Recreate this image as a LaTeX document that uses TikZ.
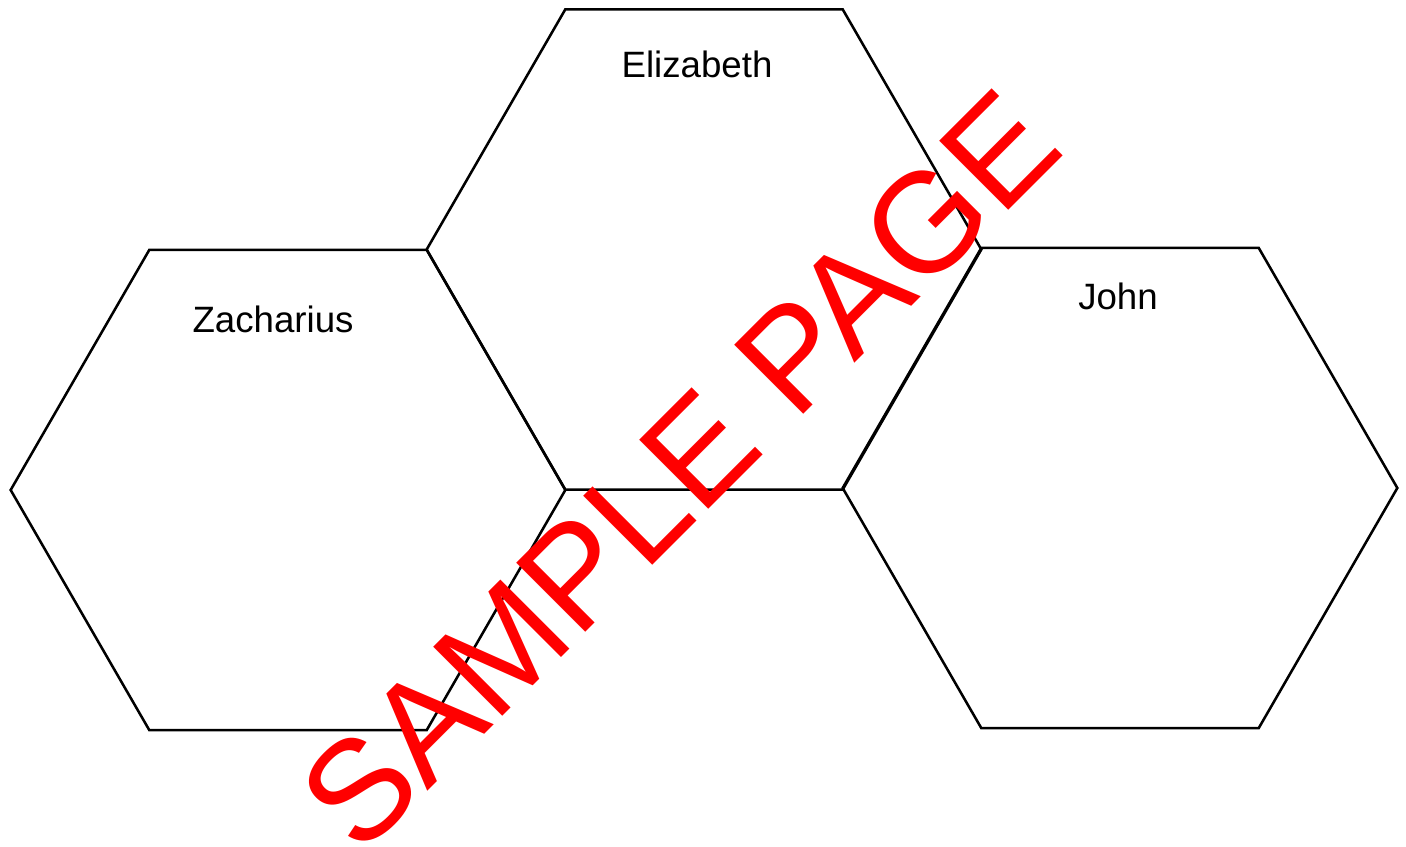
\documentclass[tikz,border=0pt]{standalone}
\usepackage{fontspec}
\setmainfont{Liberation Sans}
\usetikzlibrary{positioning}
\usetikzlibrary{calc}
\usetikzlibrary{shapes.geometric}
\tikzstyle{hexa} = [regular polygon, regular polygon sides=6, minimum size=416pt, inner sep=0pt, outer sep=0pt, draw=black, line width=1.9pt]
\tikzstyle{hex_label} = [font=\fontsize{27.5}{32}\selectfont, inner sep=0pt]
\tikzstyle{stamp} = [text=red, font=\fontsize{106.5}{112}\selectfont, rotate=45, inner sep=0pt]

\begin{document}
\begin{tikzpicture}[x=0.75pt, y=-0.75pt]
    \useasboundingbox (0,0) rectangle (1406,846);

    % --- hexagons ---

    % Zacharius on the left
    \node[hexa] at (288, 490) (zacharius_hex) {};

    % Elizabeth at the top middle
    \node[hexa] at (704, 249.5) (elizabeth_hex) {};

    % John on the right
    \node[hexa] at (1120, 488) (john_hex) {};

    % names below the top side of each hexagon
    \node[hex_label] at ($(zacharius_hex.north) + (-15, 70)$) (zacharius_text) {Zacharius};
    \node[hex_label] at ($(elizabeth_hex.north) + (-7, 55)$) (elizabeth_text) {Elizabeth};
    \node[hex_label] at ($(john_hex.north) + (-2, 49)$) (john_text) {John};

    % --- watermark ---
    \node[stamp] at (679, 470) (sample_page) {SAMPLE PAGE};

\end{tikzpicture}
\end{document}
